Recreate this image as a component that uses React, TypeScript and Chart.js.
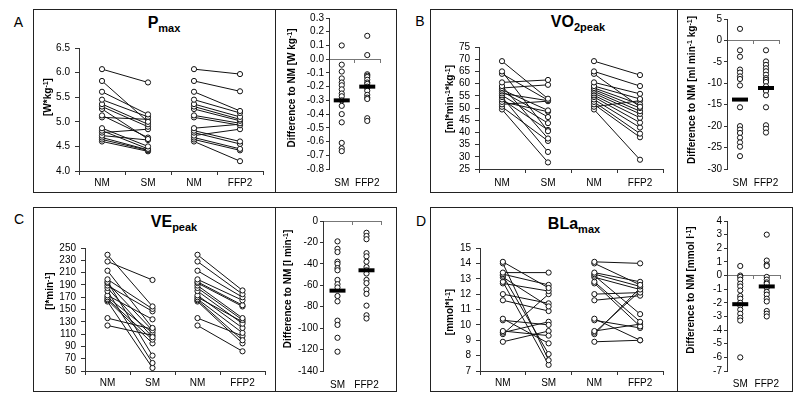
import React, { useEffect, useRef } from 'react';
import { Chart, registerables } from 'chart.js';
Chart.register(...registerables);

const FONT = '"Liberation Sans", Arial, Helvetica, sans-serif';
const AXIS = '#333';
const ZERO = '#777';

// ---------- categories ----------
const pairLabels = ['NM', 'SM', 'NM', 'FFP2'];
const diffLabels = ['SM', 'FFP2'];

// ---------- A: Pmax [W*kg-1] ----------
const pmaxNM = [6.07, 5.83, 5.61, 5.45, 5.36, 5.31, 5.26, 5.13, 5.09, 4.87, 4.82, 4.78, 4.72, 4.68, 4.64, 4.6];
const pmaxSM = [5.8, 5.0, 5.15, 5.1, 4.95, 4.9, 4.65, 4.68, 5.05, 4.5, 4.45, 4.85, 4.63, 4.43, 4.42, 4.4];
const pmaxFFP2 = [5.97, 5.62, 5.22, 5.18, 5.1, 5.05, 5.02, 4.97, 4.93, 4.95, 4.6, 4.55, 4.85, 4.45, 4.42, 4.2];
const pmaxDiffSM = [0.1, -0.04, -0.09, -0.14, -0.17, -0.19, -0.22, -0.25, -0.27, -0.3, -0.34, -0.4, -0.46, -0.61, -0.65, -0.67];
const pmaxDiffFFP2 = [0.17, 0.03, -0.11, -0.12, -0.13, -0.15, -0.17, -0.18, -0.2, -0.21, -0.23, -0.26, -0.28, -0.29, -0.43, -0.45];
const pmaxMean = [-0.3, -0.2];

// ---------- B: VO2peak [ml*min-1*kg-1] ----------
const vo2NM = [69.2, 65.0, 64.0, 60.5, 59.0, 58.2, 57.5, 56.8, 56.0, 55.2, 54.5, 53.5, 52.5, 51.5, 50.5, 49.4];
const vo2SM = [53.8, 40.5, 53.2, 61.5, 37.5, 59.5, 49.0, 46.3, 53.0, 43.8, 32.0, 41.0, 48.5, 52.8, 36.5, 27.7];
const vo2FFP2 = [63.5, 59.0, 50.5, 55.8, 53.7, 51.5, 50.0, 48.7, 47.6, 46.0, 44.0, 42.0, 39.5, 38.0, 53.0, 28.8];
const vo2DiffSM = [2.7, -2.3, -3.8, -6.8, -7.5, -8.4, -9.0, -10.5, -15.6, -20.0, -20.8, -21.6, -22.7, -23.8, -24.8, -27.0];
const vo2DiffFFP2 = [-2.3, -4.9, -5.7, -6.5, -7.2, -8.0, -8.8, -9.2, -9.7, -10.7, -11.8, -12.8, -15.6, -19.8, -20.6, -21.5];
const vo2Mean = [-13.8, -11.1];

// ---------- C: VEpeak [l*min-1] ----------
const veNM = [239, 228, 213, 199, 195, 193, 189, 185, 180, 173, 170, 167, 165, 163, 136, 124];
const veSM = [155, 198, 120, 151, 75, 116, 147, 105, 63, 134, 112, 101, 95, 55, 118, 108];
const veFFP2 = [181, 175, 170, 165, 157, 155, 136, 133, 127, 120, 130, 112, 100, 95, 107, 82];
const veDiffSM = [-19, -26, -29, -38, -40, -44, -46, -55, -59, -62, -70, -75, -93, -97, -109, -122];
const veDiffFFP2 = [-11, -14, -17, -30, -33, -38, -43, -46, -49, -55, -58, -64, -68, -79, -88, -91];
const veMean = [-65, -46];

// ---------- D: BLamax [mmol*l-1] ----------
const blaNM = [14.1, 14.0, 13.4, 13.3, 13.2, 13.1, 12.8, 12.7, 12.0, 11.6, 10.4, 10.3, 9.6, 9.5, 9.4, 8.9];
const blaSM = [12.4, 7.7, 13.4, 12.6, 8.1, 11.2, 7.4, 12.2, 11.4, 10.9, 8.8, 10.0, 9.3, 10.2, 12.0, 9.6];
const blaFFP2 = [14.0, 12.6, 12.8, 12.5, 10.7, 12.3, 10.2, 9.9, 12.1, 11.9, 9.0, 9.8, 10.05, 12.2, 12.4, 9.0];
const blaDiffSM = [0.7, 0.0, -0.1, -0.3, -0.6, -0.8, -1.1, -1.5, -1.7, -2.0, -2.2, -2.5, -2.8, -3.1, -3.3, -6.0];
const blaDiffFFP2 = [3.0, 1.1, 0.8, 0.7, -0.1, -0.3, -0.5, -0.6, -0.9, -1.2, -1.4, -1.7, -1.9, -2.6, -2.8, -3.0];
const blaMean = [-2.1, -0.8];

type Rect = { left: number; top: number; right: number; bottom: number };

const tickFont = { family: FONT, size: 10 };
const PR = 2.6;

function subjectLine(data: (number | null)[]) {
  return {
    data,
    borderColor: '#111',
    borderWidth: 1,
    pointRadius: PR,
    pointBorderWidth: 1,
    pointBackgroundColor: '#fff',
    pointBorderColor: '#111',
    spanGaps: false,
    tension: 0,
    clip: false,
    order: 1,
  };
}

function yAxis(min: number, max: number, step: number, dec: number, width: number, tickLen: number, pad: number) {
  return {
    type: 'linear',
    min,
    max,
    ticks: {
      stepSize: step,
      autoSkip: false,
      maxTicksLimit: 100,
      color: '#000',
      font: tickFont,
      padding: pad,
      callback: (v: any) => Number(v).toFixed(dec),
    },
    grid: { drawOnChartArea: false, drawTicks: true, tickLength: tickLen, color: AXIS },
    border: { display: true, color: AXIS, width: 1 },
    afterFit: (s: any) => {
      s.width = width;
    },
  };
}

function pairConfig(nm: number[], sm: number[], ffp2: number[], min: number, max: number, step: number, dec: number, canvas: Rect, area: Rect, labelPad: number) {
  const datasets: any[] = [];
  nm.forEach((v, i) => {
    datasets.push(subjectLine([v, sm[i], null, null]));
    datasets.push(subjectLine([null, null, v, ffp2[i]]));
  });
  return {
    type: 'line',
    data: { labels: pairLabels, datasets },
    options: {
      animation: false,
      responsive: false,
      devicePixelRatio: 1,
      layout: { padding: { left: 0, top: area.top - canvas.top, right: canvas.right - area.right, bottom: 0 } },
      plugins: { legend: { display: false }, tooltip: { enabled: false } },
      scales: {
        x: {
          type: 'category',
          offset: true,
          grid: { offset: true, drawOnChartArea: false, drawTicks: true, tickLength: 4, color: AXIS },
          border: { display: true, color: AXIS, width: 1 },
          ticks: { color: '#000', font: tickFont, padding: labelPad, autoSkip: false, maxRotation: 0 },
          afterFit: (s: any) => {
            s.height = canvas.bottom - area.bottom;
          },
        },
        y: yAxis(min, max, step, dec, area.left - canvas.left, 4, 5),
      },
    },
  };
}

function diffConfig(dSM: number[], dFFP2: number[], mean: number[], min: number, max: number, step: number, dec: number, canvas: Rect, area: Rect, labelPad: number) {
  const dotStyle = {
    showLine: false,
    pointRadius: PR,
    pointBorderWidth: 1,
    pointBackgroundColor: '#fff',
    pointBorderColor: '#111',
    borderColor: '#111',
    clip: false,
    order: 1,
  };
  const datasets: any[] = [
    {
      data: diffLabels.map((c, i) => ({ x: c, y: mean[i] })),
      showLine: false,
      pointStyle: 'line',
      pointRadius: 8,
      pointBorderWidth: 4,
      borderColor: '#000',
      pointBorderColor: '#000',
      clip: false,
      order: 0,
    },
    { ...dotStyle, data: dSM.map((v) => ({ x: 'SM', y: v })) },
    { ...dotStyle, data: dFFP2.map((v) => ({ x: 'FFP2', y: v })) },
  ];
  return {
    type: 'line',
    data: { labels: diffLabels, datasets },
    options: {
      animation: false,
      responsive: false,
      devicePixelRatio: 1,
      layout: { padding: { left: 0, top: area.top - canvas.top, right: canvas.right - area.right, bottom: 0 } },
      plugins: { legend: { display: false }, tooltip: { enabled: false } },
      scales: {
        x: {
          type: 'category',
          offset: true,
          grid: { display: false, drawTicks: false },
          border: { display: false },
          ticks: { color: '#000', font: tickFont, padding: labelPad, autoSkip: false, maxRotation: 0 },
          afterFit: (s: any) => {
            s.height = canvas.bottom - area.bottom;
          },
        },
        x2: {
          type: 'category',
          axis: 'x',
          labels: diffLabels,
          position: { y: 0 },
          offset: true,
          grid: { offset: true, drawOnChartArea: false, drawTicks: true, tickLength: 3, color: ZERO },
          border: { display: true, color: ZERO, width: 1 },
          ticks: { display: false },
        },
        y: yAxis(min, max, step, dec, area.left - canvas.left, 3, 2),
      },
    },
  };
}

function ChartCanvas({ canvas, build }: { canvas: Rect; build: () => any }) {
  const ref = useRef<HTMLCanvasElement>(null);
  useEffect(() => {
    const chart = new Chart(ref.current as HTMLCanvasElement, build());
    return () => chart.destroy();
  }, []);
  const w = canvas.right - canvas.left;
  const h = canvas.bottom - canvas.top;
  return (
    <canvas
      ref={ref}
      width={w}
      height={h}
      style={{ position: 'absolute', left: canvas.left, top: canvas.top, width: w, height: h }}
    />
  );
}

const sup = (t: string) => <sup style={{ fontSize: 7, verticalAlign: 3, lineHeight: 0 }}>{t}</sup>;

function VTitle({ x, y, children }: { x: number; y: number; children: any }) {
  return (
    <div
      style={{
        position: 'absolute',
        left: x,
        top: y,
        transform: 'translate(-50%,-50%) rotate(-90deg)',
        whiteSpace: 'nowrap',
        fontFamily: FONT,
        fontWeight: 'bold',
        fontSize: 10,
        lineHeight: 1,
        color: '#000',
      }}
    >
      {children}
    </div>
  );
}

function PanelTitle({ x, capTop, main, sub }: { x: number; capTop: number; main: string; sub: string }) {
  return (
    <div
      style={{
        position: 'absolute',
        left: x,
        top: capTop - 2.1,
        transform: 'translateX(-50%)',
        whiteSpace: 'nowrap',
        fontFamily: FONT,
        fontWeight: 'bold',
        fontSize: 16,
        lineHeight: 1,
        color: '#000',
      }}
    >
      {main}
      <span style={{ fontSize: 11, verticalAlign: -4 }}>{sub}</span>
    </div>
  );
}

function Letter({ x, capTop, t }: { x: number; capTop: number; t: string }) {
  return (
    <div
      style={{
        position: 'absolute',
        left: x,
        top: capTop - 1.9,
        transform: 'translateX(-50%)',
        fontFamily: FONT,
        fontSize: 14,
        lineHeight: 1,
        color: '#000',
      }}
    >
      {t}
    </div>
  );
}

function Frame({ left, top, right, bottom, divider }: { left: number; top: number; right: number; bottom: number; divider: number }) {
  return (
    <>
      <div
        style={{
          position: 'absolute',
          left,
          top,
          width: right - left,
          height: bottom - top,
          border: '1px solid #222',
          boxSizing: 'border-box',
        }}
      />
      <div style={{ position: 'absolute', left: divider, top, width: 1, height: bottom - top, background: '#222' }} />
    </>
  );
}

export default function App() {
  return (
    <div
      style={{
        position: 'fixed',
        left: 0,
        top: 0,
        width: 800,
        height: 399,
        background: '#fff',
        overflow: 'hidden',
      }}
    >
      <Frame left={33} top={9} right={397} bottom={193} divider={275} />
      <Frame left={430} top={9} right={793} bottom={193} divider={677} />
      <Frame left={33} top={207} right={397} bottom={392} divider={275} />
      <Frame left={430} top={207} right={793} bottom={392} divider={677} />

      <Letter x={18.5} capTop={17} t="A" />
      <Letter x={420} capTop={15.5} t="B" />
      <Letter x={19} capTop={214} t="C" />
      <Letter x={421} capTop={216} t="D" />

      <PanelTitle x={164} capTop={16.7} main="P" sub="max" />
      <PanelTitle x={578} capTop={16} main="VO" sub="2peak" />
      <PanelTitle x={174} capTop={215.7} main="VE" sub="peak" />
      <PanelTitle x={574} capTop={217.7} main="BLa" sub="max" />

      <ChartCanvas
        canvas={{ left: 36, top: 37, right: 271, bottom: 191 }}
        build={() =>
          pairConfig(pmaxNM, pmaxSM, pmaxFFP2, 4, 6.5, 0.5, 1, { left: 36, top: 37, right: 271, bottom: 191 }, { left: 79, top: 47, right: 263, bottom: 171 }, 2)
        }
      />
      <ChartCanvas
        canvas={{ left: 278, top: 6, right: 392, bottom: 191 }}
        build={() =>
          diffConfig(pmaxDiffSM, pmaxDiffFFP2, pmaxMean, -0.8, 0.3, 0.1, 1, { left: 278, top: 6, right: 392, bottom: 191 }, { left: 329, top: 16, right: 383, bottom: 169 }, 8)
        }
      />
      <ChartCanvas
        canvas={{ left: 433, top: 36, right: 671, bottom: 191 }}
        build={() =>
          pairConfig(vo2NM, vo2SM, vo2FFP2, 25, 75, 5, 0, { left: 433, top: 36, right: 671, bottom: 191 }, { left: 479, top: 46, right: 663, bottom: 169 }, 4)
        }
      />
      <ChartCanvas
        canvas={{ left: 680, top: 7, right: 791, bottom: 191 }}
        build={() =>
          diffConfig(vo2DiffSM, vo2DiffFFP2, vo2Mean, -30, 5, 5, 0, { left: 680, top: 7, right: 791, bottom: 191 }, { left: 727, top: 17, right: 783, bottom: 169 }, 8)
        }
      />
      <ChartCanvas
        canvas={{ left: 36, top: 237, right: 272, bottom: 390 }}
        build={() =>
          pairConfig(veNM, veSM, veFFP2, 50, 250, 20, 0, { left: 36, top: 237, right: 272, bottom: 390 }, { left: 85, top: 247, right: 265, bottom: 371 }, 2)
        }
      />
      <ChartCanvas
        canvas={{ left: 278, top: 209, right: 394, bottom: 390 }}
        build={() =>
          diffConfig(veDiffSM, veDiffFFP2, veMean, -140, 0, 20, 0, { left: 278, top: 209, right: 394, bottom: 390 }, { left: 323, top: 219, right: 381, bottom: 371 }, 8)
        }
      />
      <ChartCanvas
        canvas={{ left: 433, top: 237, right: 672, bottom: 390 }}
        build={() =>
          pairConfig(blaNM, blaSM, blaFFP2, 7, 15, 1, 0, { left: 433, top: 237, right: 672, bottom: 390 }, { left: 480, top: 247, right: 663, bottom: 371 }, 2)
        }
      />
      <ChartCanvas
        canvas={{ left: 680, top: 209, right: 792, bottom: 390 }}
        build={() =>
          diffConfig(blaDiffSM, blaDiffFFP2, blaMean, -7, 4, 1, 0, { left: 680, top: 209, right: 792, bottom: 390 }, { left: 727, top: 217, right: 788, bottom: 371 }, 7)
        }
      />

      <VTitle x={48} y={97}>[W*kg{sup('-1')}]</VTitle>
      <VTitle x={291.7} y={88}>Difference to NM [W kg{sup('-1')}]</VTitle>
      <VTitle x={450} y={99}>[ml*min{sup('-1')}*kg{sup('-1')}]</VTitle>
      <VTitle x={691.7} y={90}>Difference to NM [ml min{sup('-1')} kg{sup('-1')}]</VTitle>
      <VTitle x={50} y={291}>[l*min{sup('-1')}]</VTitle>
      <VTitle x={288.3} y={289}>Difference to NM [l min{sup('-1')}]</VTitle>
      <VTitle x={450} y={311.7}>[mmol*l{sup('-1')}]</VTitle>
      <VTitle x={690.7} y={289.5}>Difference to NM [mmol l{sup('-1')}]</VTitle>
    </div>
  );
}
